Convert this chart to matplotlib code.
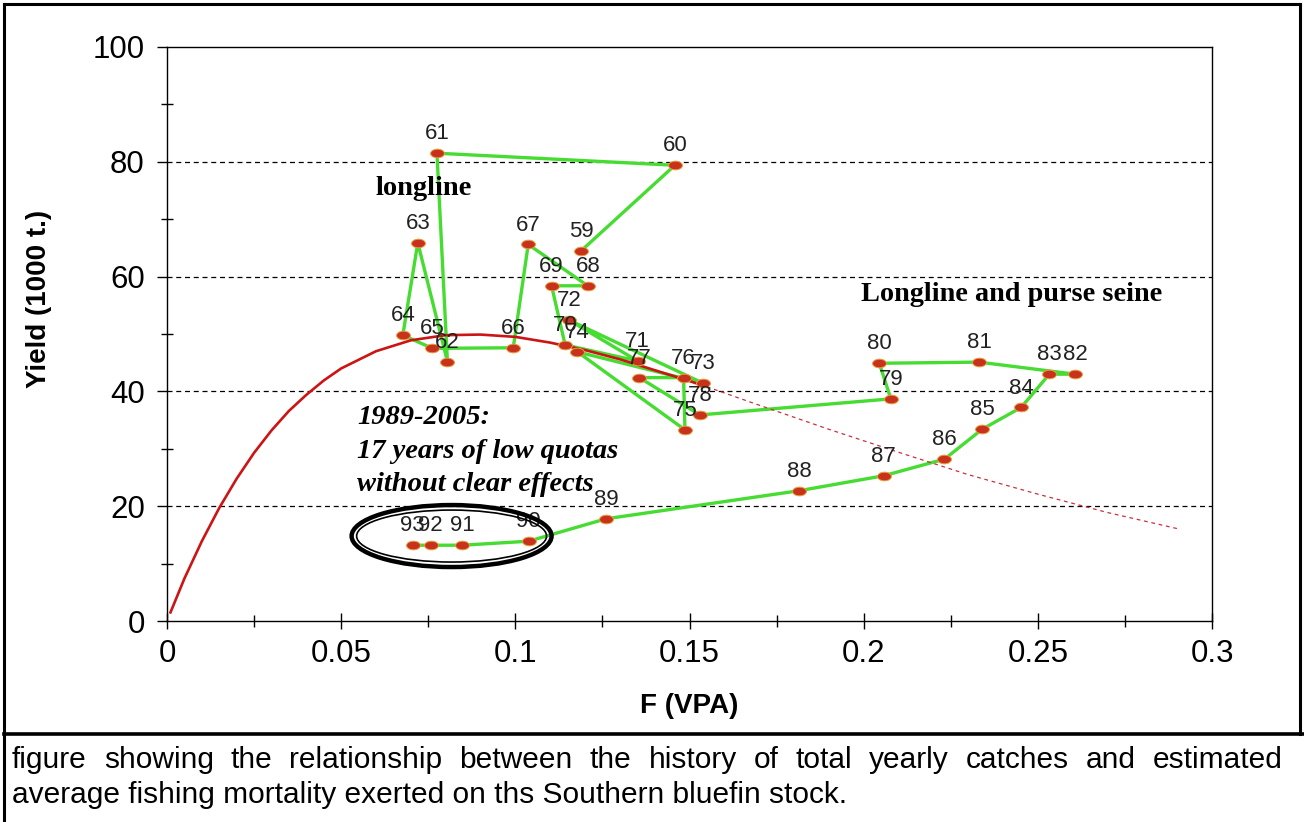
import matplotlib
matplotlib.use("Agg")
import matplotlib.pyplot as plt
from matplotlib.path import Path
from matplotlib.transforms import Affine2D
from matplotlib.patches import Ellipse
from matplotlib.lines import Line2D

# ---------------- data ----------------
years = ['59', '60', '61', '62', '63', '64', '65', '66', '67', '68', '69', '70',
         '71', '72', '73', '74', '75', '76', '77', '78', '79', '80', '81', '82',
         '83', '84', '85', '86', '87', '88', '89', '90', '91', '92', '93']
F_vpa = [0.1189, 0.1458, 0.0775, 0.0805, 0.0720, 0.0677, 0.0762, 0.0994, 0.1037,
         0.1208, 0.1104, 0.1143, 0.1351, 0.1155, 0.1540, 0.1178, 0.1487, 0.1483,
         0.1356, 0.1530, 0.2078, 0.2045, 0.2331, 0.2607, 0.2533, 0.2452, 0.2340,
         0.2232, 0.2057, 0.1815, 0.1260, 0.1038, 0.0847, 0.0757, 0.0705]
yield_kt = [64.5, 79.4, 81.5, 45.2, 65.9, 49.8, 47.5, 47.6, 65.6, 58.4, 58.4, 48.1,
            45.3, 52.4, 41.4, 46.9, 33.3, 42.4, 42.4, 35.9, 38.7, 44.9, 45.1, 43.0,
            43.0, 37.2, 33.4, 28.2, 25.3, 22.7, 17.8, 13.9, 13.2, 13.2, 13.2]

# equilibrium yield curve (solid part, then dashed extrapolation)
curve_F = [0.001, 0.005, 0.01, 0.015, 0.02, 0.025, 0.03, 0.035, 0.04, 0.045, 0.05,
           0.06, 0.07, 0.08, 0.09, 0.10, 0.11, 0.12, 0.13, 0.14, 0.15, 0.155]
curve_Y = [1.5, 7.4, 13.9, 19.7, 24.8, 29.3, 33.2, 36.6, 39.4, 41.9, 44.0,
           47.0, 48.9, 49.8, 49.9, 49.5, 48.5, 47.2, 45.6, 43.7, 41.8, 40.8]
dash_F = [0.155, 0.17, 0.19, 0.21, 0.23, 0.25, 0.27, 0.29]
dash_Y = [40.8, 37.6, 33.4, 29.4, 25.5, 22.1, 18.9, 16.1]

x_ticks = [0, 0.05, 0.1, 0.15, 0.2, 0.25, 0.3]
x_ticklabels = ['0', '0.05', '0.1', '0.15', '0.2', '0.25', '0.3']
y_ticks = [0, 20, 40, 60, 80, 100]

caption_line1 = ("figure showing the relationship between the history of total "
                 "yearly catches and estimated")
caption_line2 = "average fishing mortality exerted on ths Southern bluefin stock."

# ---------------- figure ----------------
W, H = 1304, 822
fig = plt.figure(figsize=(W / 100, H / 100), dpi=100)
fig.patch.set_facecolor('white')

ax = fig.add_axes([167 / W, 1 - 621 / H, (1212 - 167) / W, (621 - 47) / H])
ax.set_xlim(0, 0.3)
ax.set_ylim(0, 100)

sans = ['Liberation Sans', 'Arial', 'DejaVu Sans']
serif = ['Liberation Serif', 'Times New Roman', 'DejaVu Serif']

# gridlines
for g in [20, 40, 60, 80]:
    ax.axhline(g, color='black', lw=0.9, ls=(0, (4, 3)), zorder=1)

# trajectory
green = '#46DC32'
ax.plot(F_vpa, yield_kt, color=green, lw=2.4, zorder=3, solid_capstyle='round')

# curve
ax.plot(curve_F, curve_Y, color='#CC1414', lw=1.9, zorder=4)
ax.plot(dash_F, dash_Y, color='#C83040', lw=0.9, ls=(0, (3, 3)), zorder=4)

# markers (flat ellipse)
ell = Path.unit_circle().transformed(Affine2D().scale(1.6, 1.0))
ax.plot(F_vpa, yield_kt, ls='none', marker=ell, markersize=10,
        markerfacecolor='#C8321C', markeredgecolor='#E8A040', markeredgewidth=0.7,
        zorder=5)

for yr, f, y in zip(years, F_vpa, yield_kt):
    ax.annotate(yr, (f, y), xytext=(0, 14), textcoords='offset points',
                ha='center', va='center', fontsize=16, family=sans,
                color='#222222', zorder=6)

# ellipse around 1990-93
ax.add_patch(Ellipse((0.0817, 14.8), 0.0574, 10.8, fill=False, ec='black', lw=3.2, zorder=7))
ax.add_patch(Ellipse((0.0817, 14.8), 0.0574 - 10 / 3483.3, 10.8 - 10 / 5.74,
                     fill=False, ec='black', lw=1.2, zorder=7))

# annotations
ax.text(0.0738, 75.4, 'longline', fontsize=20.5, fontweight='bold', family=serif,
        ha='center', va='center', zorder=8)
ax.text(0.2426, 56.8, 'Longline and purse seine', fontsize=20.3, fontweight='bold',
        family=serif, ha='center', va='center', zorder=8)
ax.text(0.0545, 29.6, '1989-2005:\n17 years of low quotas\nwithout clear effects',
        fontsize=20.5, fontweight='bold', style='italic', family=serif,
        ha='left', va='center', linespacing=1.45, zorder=8)

# axes styling
for s in ax.spines.values():
    s.set_color('black')
    s.set_linewidth(1.0)
ax.set_xticks(x_ticks)
ax.set_xticklabels(x_ticklabels)
ax.set_xticks([0.025, 0.075, 0.125, 0.175, 0.225, 0.275], minor=True)
ax.set_yticks(y_ticks)
ax.set_yticks([10, 30, 50, 70, 90], minor=True)
ax.tick_params(axis='x', which='major', direction='inout', length=12, width=1,
               labelsize=22.5, pad=7)
ax.tick_params(axis='x', which='minor', direction='inout', length=9, width=1)
ax.tick_params(axis='y', which='major', direction='out', length=7, width=1,
               labelsize=22.5, pad=9)
ax.tick_params(axis='y', which='minor', direction='inout', length=8, width=1)
for lab in ax.get_xticklabels() + ax.get_yticklabels():
    lab.set_family(sans)

ax.set_xlabel('F (VPA)', fontsize=20, fontweight='bold', family=sans)
ax.set_ylabel('Yield (1000 t.)', fontsize=20, fontweight='bold', family=sans)
ax.xaxis.set_label_coords((689 - 167) / 1045, (621 - 693) / 574)
ax.yaxis.set_label_coords((52 - 167) / 1045, (621 - 299) / 574)

# frame lines of the figure
def fl(x0, y0, x1, y1, lw=2.2):
    fig.add_artist(Line2D([x0 / W, x1 / W], [1 - y0 / H, 1 - y1 / H],
                          color='black', lw=lw, transform=fig.transFigure))

fl(4, 4, 1300, 4)
fl(4, 4, 4, 822)
fl(1300, 4, 1300, 734)
fl(4, 734, 1304, 734, lw=2.6)

# caption: first line justified across the width, second line left aligned
cap_size = 21.5
renderer = fig.canvas.get_renderer()
words = caption_line1.split(' ')
wtexts = [fig.text(0, 1 - 760 / H, w, fontsize=cap_size, family=sans,
                   ha='left', va='center') for w in words]
widths = [t.get_window_extent(renderer).width for t in wtexts]
left, right = 12, 1283
gap = (right - left - sum(widths)) / (len(words) - 1)
x = left
for t, w in zip(wtexts, widths):
    t.set_x(x / W)
    x += w + gap

fig.text(12 / W, 1 - 795 / H, caption_line2, fontsize=cap_size, family=sans,
         ha='left', va='center')

fig.savefig('out.png', dpi=100, facecolor='white')
